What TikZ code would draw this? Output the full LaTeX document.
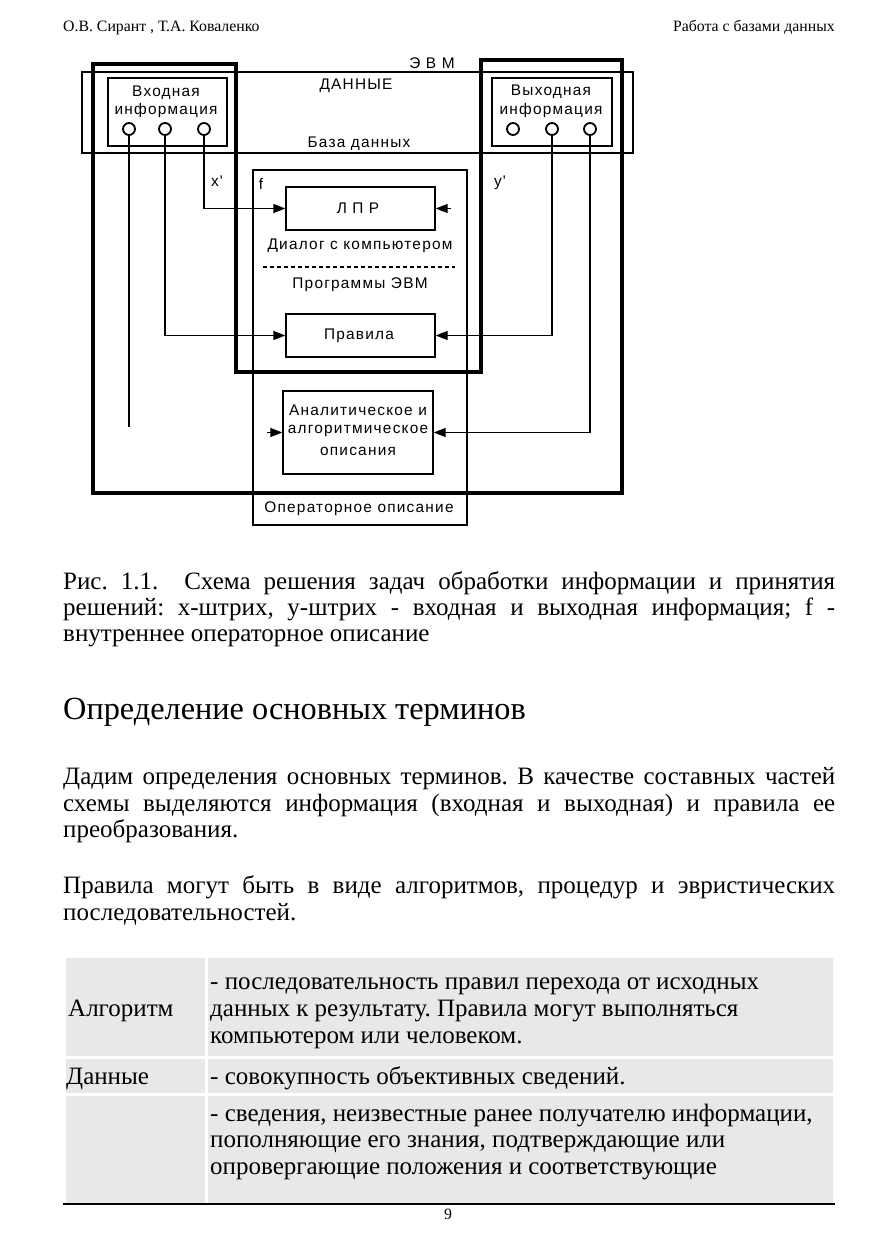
\documentclass[tikz,border=0pt]{standalone}
\usepackage{fontspec}
\setmainfont{Liberation Serif}
\newfontfamily\dfont[LetterSpace=8]{Liberation Sans}
\usetikzlibrary{arrows.meta}
\definecolor{cellgray}{HTML}{E8E8E8}
\frenchspacing
\begin{document}
\begin{tikzpicture}[x=1pt,y=-1pt,
  bigframe/.style={line width=4.8pt, line join=miter},
  dbox/.style={draw, line width=1.3pt, inner sep=0pt, fill=white},
  dtext/.style={font=\dfont\fontsize{15.4}{18}\selectfont, inner sep=0pt},
  port/.style={circle, draw, line width=1.8pt, minimum size=12pt, inner sep=0pt, fill=white},
  conn/.style={line width=1.3pt},
  arr/.style={line width=1.3pt, -{Triangle[length=12pt,width=9pt]}},
  body/.style={font=\fontsize{25}{30}\selectfont, inner sep=0pt, anchor=base west},
  hdr/.style={font=\fontsize{15.8}{18}\selectfont, inner sep=0pt},
]
\fill[white] (0,0) rectangle (877,1241);
\useasboundingbox (0,0) rectangle (877,1241);

% header
\node[hdr, anchor=base west] (hl) at (63,32) {О.В. Сирант , Т.А. Коваленко};
\node[hdr, anchor=base east] (hr) at (835,32) {Работа с базами данных};

% ---------- diagram ----------
\node[draw, line width=1.3pt, inner sep=0pt, minimum width=551pt, minimum height=81pt] (data) at (357.5,112.5) {};
\node[dtext] (evm) at (432,63) {Э В М};
\node[dtext] (dannye) at (356,86) {ДАННЫЕ};
\node[dtext] (baza) at (359,144) {База данных};

\node[draw, line width=1.3pt, inner sep=0pt, minimum width=214pt, minimum height=355pt] (fbox) at (360,347.5) {};

\draw[bigframe] (93,64) -- (236,64) -- (236,372) -- (481,372) -- (481,60) -- (622,60) -- (622,493) -- (93,493) -- cycle;

% input
\node[dbox, minimum width=119pt, minimum height=68pt] (inbox) at (167.5,112) {};
\node[dtext] (intxt1) at (166,93) {Входная};
\node[dtext] (intxt2) at (166,111) {информация};
\node[port] (in1) at (129,129) {};
\node[port] (in2) at (165,129) {};
\node[port] (in3) at (204,129) {};

% output
\node[dbox, minimum width=120pt, minimum height=68pt] (outbox) at (552,112) {};
\node[dtext] (outtxt1) at (551,92) {Выходная};
\node[dtext] (outtxt2) at (551,111) {информация};
\node[port] (out1) at (513,129) {};
\node[port] (out2) at (552,129) {};
\node[port] (out3) at (590,129) {};

\node[dtext] (xp) at (217,181) {x'};
\node[dtext] (yp) at (500,183) {y'};
\node[dtext] (f) at (261,184) {f};

\node[dbox, minimum width=149pt, minimum height=43pt] (lpr) at (360.5,208.5) {};
\node[dtext] (lprtxt) at (358,208.5) {Л П Р};
\node[dtext] (dialog) at (360,246) {Диалог с компьютером};
\coordinate (dashL) at (263,267);
\coordinate (dashR) at (455,267);
\draw[line width=1.1pt, dash pattern=on 4pt off 3pt] (dashL) -- (dashR);
\node[dtext] (prog) at (360,285) {Программы ЭВМ};
\node[dbox, minimum width=149pt, minimum height=43pt] (rules) at (360.5,335.5) {};
\node[dtext] (rulestxt) at (359,335.5) {Правила};

\node[dbox, minimum width=150pt, minimum height=83pt] (anal) at (358,432.5) {};
\node[dtext] (an1) at (358,410) {Аналитическое и};
\node[dtext] (an2) at (358,431) {алгоритмическое};
\node[dtext] (an3) at (358,451) {описания};
\node[dtext] (oper) at (359,509) {Операторное описание};

% connectors
\draw[arr] (in3.south) |- (lpr.west);
\draw[arr] (in2.south) |- (rules.west);
\coordinate (in1end) at (129,427);
\draw[conn] (in1.south) -- (in1end);
\draw[arr] (out2.south) |- (rules.east);
\draw[arr] (out3.south) |- (anal.east);
\coordinate (lprstub) at (451,208.5);
\draw[arr] (lprstub) -- (lpr.east);
\coordinate (analstub) at (267,432.5);
\draw[arr] (analstub) -- (anal.west);

% ---------- caption ----------
\node[body] (c1) at (63,589) {\makebox[772pt][s]{Рис. 1.1.\ \ Схема решения задач обработки информации и принятия}};
\node[body] (c2) at (63,615) {\makebox[772pt][s]{решений: x-штрих, y-штрих - входная и выходная информация; f -}};
\node[body] (c3) at (63,641) {внутреннее операторное описание};

\node[font=\fontsize{32.3}{36}\selectfont, inner sep=0pt, anchor=base west] (head) at (63,719) {Определение основных терминов};

\node[body] (p1) at (63,784) {\makebox[772pt][s]{Дадим определения основных терминов. В качестве составных частей}};
\node[body] (p2) at (63,811) {\makebox[772pt][s]{схемы выделяются информация (входная и выходная) и правила ее}};
\node[body] (p3) at (63,837) {преобразования.};
\node[body] (q1) at (63,893) {\makebox[772pt][s]{Правила могут быть в виде алгоритмов, процедур и эвристических}};
\node[body] (q2) at (63,920) {последовательностей.};

% ---------- table ----------
\fill[cellgray] (66,958) rectangle (205,1056);
\fill[cellgray] (208,958) rectangle (833,1056);
\fill[cellgray] (66,1059) rectangle (205,1093);
\fill[cellgray] (208,1059) rectangle (833,1093);
\fill[cellgray] (66,1096) rectangle (205,1203);
\fill[cellgray] (208,1096) rectangle (833,1203);
\draw[line width=1.3pt] (63,1204) -- (835,1204);

\node[body] (t1a) at (68,1016) {Алгоритм};
\node[body] (t1b) at (210,989) {- последовательность правил перехода от исходных};
\node[body] (t1c) at (210,1016) {данных к результату. Правила могут выполняться};
\node[body] (t1d) at (210,1043) {компьютером или человеком.};
\node[body] (t2a) at (66,1084) {Данные};
\node[body] (t2b) at (210,1084) {- совокупность объективных сведений.};
\node[body] (t3a) at (210,1121) {- сведения, неизвестные ранее получателю информации,};
\node[body] (t3b) at (210,1147) {пополняющие его знания, подтверждающие или};
\node[body] (t3c) at (210,1174) {опровергающие положения и соответствующие};

\node[hdr, anchor=base] (pnum) at (448,1219) {9};
\end{tikzpicture}
\end{document}
